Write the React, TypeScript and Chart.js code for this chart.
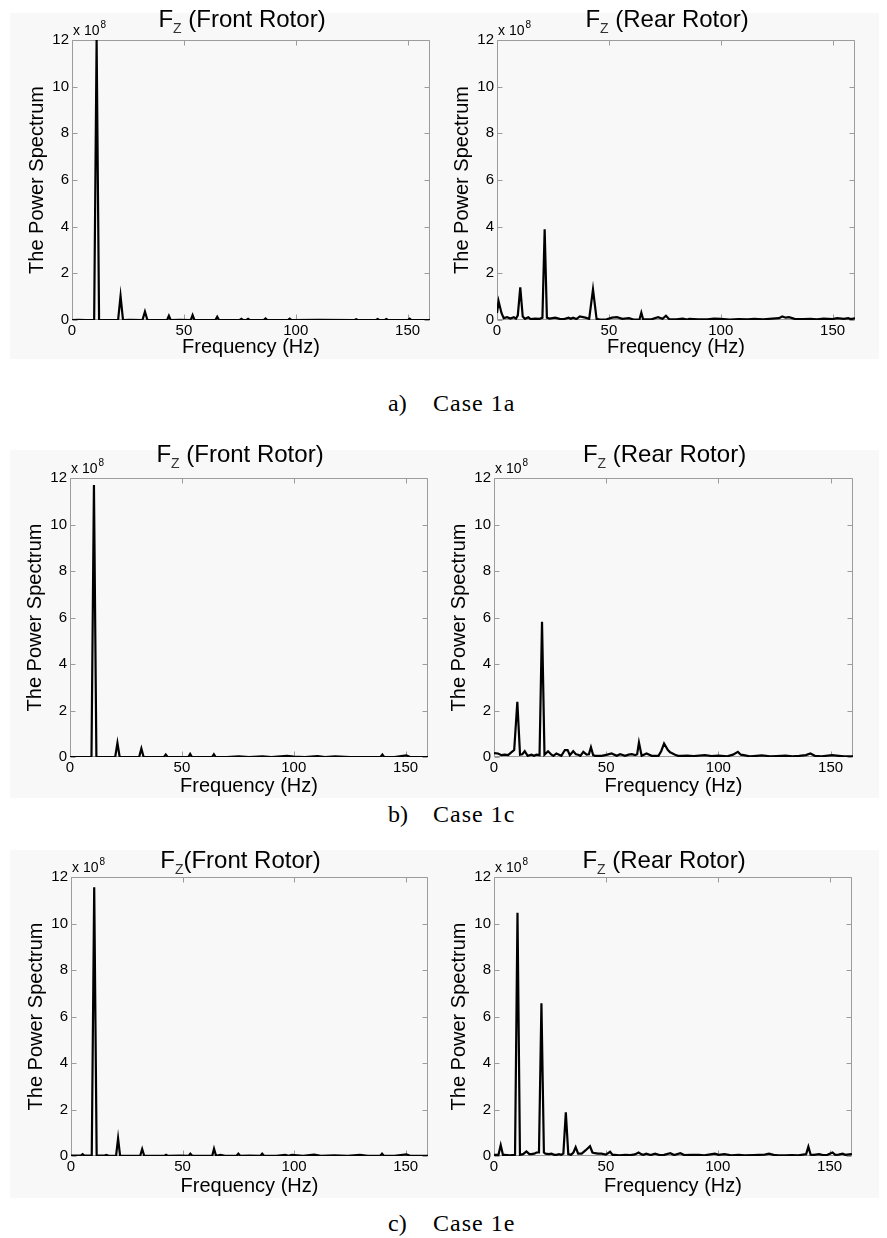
import React, { useEffect, useRef } from "react";
import { Chart, registerables } from "chart.js";

Chart.register(...registerables);

// ---------- data (power spectrum in units of 1e8, frequency in Hz) ----------
const xTicks = [0, 50, 100, 150];
const yTicks = [0, 2, 4, 6, 8, 10, 12];
const xMax = 160;
const yMax = 12;

const freq1aFront = [0, 3, 6, 9.9, 11, 12.1, 15, 20.6, 21.7, 22.8, 26, 31.5, 32.6, 33.7, 38, 42.5, 43.3, 44.1, 48, 53.1, 53.9, 54.7, 58, 64.1, 64.9, 65.7, 70, 75, 75.7, 76.4, 78, 78.7, 79.4, 85.7, 86.5, 87.3, 96.5, 97.3, 98.1, 110, 126.3, 127, 127.7, 135.9, 136.6, 137.3, 139.8, 140.5, 141.2, 150.1, 150.9, 151.7, 160];
const power1aFront = [0, 0.01, 0, 0, 12, 0, 0, 0, 1.03, 0, 0.01, 0, 0.36, 0, 0, 0, 0.18, 0, 0.01, 0, 0.21, 0, 0, 0, 0.14, 0, 0, 0, 0.05, 0, 0, 0.05, 0, 0, 0.07, 0, 0, 0.06, 0, 0.01, 0, 0.03, 0, 0, 0.04, 0, 0, 0.04, 0, 0, 0.06, 0, 0];

const freq1aRear = [0, 0.7, 2, 3, 4.5, 6, 7.5, 8.5, 9.3, 10.4, 11.5, 12.5, 14, 15, 17, 19, 20.3, 21.3, 22.3, 23.5, 26, 28, 30, 32, 33, 34, 35.5, 37, 39.5, 41.2, 42.9, 44.5, 46, 49, 51.4, 53.6, 56, 59, 61, 63.7, 64.5, 65.3, 69, 72, 74, 75.5, 77, 80, 83, 85, 86, 90, 94, 97, 100, 104, 108, 112, 115, 119, 123, 126, 127.5, 129, 130.5, 133, 137, 140, 143, 146, 150, 152, 155, 157, 158, 160];
const power1aRear = [0.3, 0.81, 0.3, 0.08, 0.12, 0.06, 0.12, 0.06, 0.2, 1.4, 0.15, 0.05, 0.12, 0.04, 0.06, 0.05, 0.1, 3.89, 0.1, 0.06, 0.1, 0.05, 0.04, 0.1, 0.05, 0.1, 0.04, 0.15, 0.1, 0.05, 1.31, 0.05, 0.02, 0.03, 0.1, 0.12, 0.05, 0.08, 0.02, 0.03, 0.31, 0.03, 0.03, 0.12, 0.05, 0.18, 0.03, 0.03, 0.06, 0.02, 0.05, 0.03, 0.03, 0.06, 0.05, 0.02, 0.04, 0.03, 0.05, 0.03, 0.06, 0.08, 0.15, 0.1, 0.12, 0.05, 0.04, 0.05, 0.03, 0.06, 0.04, 0.08, 0.05, 0.08, 0.04, 0.07];

const freq1cFront = [0, 4, 8, 9.6, 10.7, 11.8, 15, 20.2, 21.2, 22.2, 27, 30.9, 31.9, 32.9, 38, 42, 42.8, 43.6, 48, 52.9, 53.7, 54.5, 60, 63.5, 64.3, 65.1, 70, 75.4, 80, 86, 90, 97, 100, 105, 110.6, 114, 118.5, 125, 135, 138.8, 139.6, 140.4, 145, 150.3, 152, 160];
const power1cFront = [0, 0, 0, 0, 11.7, 0, 0, 0, 0.6, 0, 0, 0, 0.36, 0, 0, 0, 0.1, 0, 0, 0, 0.13, 0, 0, 0, 0.12, 0, 0, 0.03, 0, 0.03, 0, 0.05, 0.02, 0, 0.04, 0, 0.03, 0, 0, 0, 0.1, 0, 0, 0.07, 0, 0];

const freq1cRear = [0, 1.8, 3.3, 4.8, 6.3, 7.7, 9, 10.4, 11.6, 12.6, 13.7, 15, 16.7, 17.8, 18.9, 20.3, 21.4, 22.5, 24.1, 25.6, 26.5, 27.8, 30, 31.6, 32.8, 33.8, 35.3, 36.5, 37.5, 38.5, 39.8, 41.3, 42.3, 43.2, 44.2, 45, 48, 50.5, 52.4, 54.7, 56.2, 58.4, 60, 61.4, 62.9, 63.8, 64.6, 65.8, 68, 70.3, 73.3, 74.5, 75.8, 77.5, 78.5, 80.7, 82, 83.7, 86, 89, 94, 97, 100, 104, 106.5, 108.7, 110, 111.3, 114, 117, 119.4, 123, 126, 129.9, 133, 136, 139, 141, 143, 146, 150.7, 153.7, 156, 160];
const power1cRear = [0.17, 0.15, 0.08, 0.1, 0.08, 0.2, 0.3, 2.37, 0.1, 0.12, 0.25, 0.05, 0.1, 0.05, 0.1, 0.08, 5.82, 0.1, 0.25, 0.1, 0.05, 0.15, 0.05, 0.3, 0.3, 0.08, 0.25, 0.12, 0.1, 0.05, 0.22, 0.1, 0.12, 0.42, 0.08, 0.05, 0.05, 0.1, 0.15, 0.05, 0.12, 0.05, 0.1, 0.12, 0.08, 0.12, 0.62, 0.05, 0.15, 0.05, 0.05, 0.25, 0.58, 0.3, 0.2, 0.1, 0.05, 0.05, 0.06, 0.04, 0.08, 0.04, 0.06, 0.03, 0.1, 0.22, 0.1, 0.08, 0.03, 0.05, 0.07, 0.03, 0.04, 0.06, 0.03, 0.05, 0.08, 0.15, 0.05, 0.03, 0.08, 0.05, 0.03, 0.03];

const freq1eFront = [0, 3, 4.4, 5.2, 6, 9.3, 10.4, 11.5, 15, 15.9, 16.8, 20.2, 21.1, 22, 27, 31, 31.9, 32.8, 38, 42, 42.6, 43.3, 49, 52.8, 53.5, 54.3, 60, 63.3, 64.1, 65, 67, 69, 74.2, 75, 75.8, 80, 84.9, 85.7, 86.5, 92, 96, 97.5, 99, 104, 109, 112, 118, 124, 129.5, 133, 138.6, 139.4, 140.2, 145, 150.3, 152, 160];
const power1eFront = [0.02, 0.02, 0.02, 0.08, 0.02, 0.02, 11.56, 0.02, 0.02, 0.05, 0.01, 0.01, 0.76, 0.01, 0.01, 0.01, 0.3, 0.01, 0.01, 0.01, 0.05, 0.01, 0.02, 0.01, 0.1, 0.01, 0.01, 0.01, 0.31, 0.01, 0.05, 0.01, 0.01, 0.1, 0.01, 0.02, 0.01, 0.1, 0.01, 0.01, 0.05, 0.01, 0.05, 0.01, 0.06, 0.01, 0.03, 0.01, 0.05, 0.01, 0.01, 0.1, 0.01, 0.01, 0.07, 0.01, 0.01];

const freq1eRear = [0, 2, 3, 4, 4.8, 7, 9.4, 10.5, 11.6, 13, 14.5, 15.8, 16.7, 18, 19, 20.1, 21.2, 22.3, 23, 24.5, 25.7, 27, 28, 29, 30, 31, 32.1, 33.2, 34.4, 35.5, 36.5, 37.6, 39.2, 41, 42.9, 44, 45.1, 46.5, 48, 50, 51.9, 53, 54, 56, 58.6, 61, 63, 64.6, 66, 66.8, 68, 70, 72, 74, 76, 78.8, 80.5, 83.3, 85, 88, 91.5, 94, 96, 98.7, 100.4, 103, 106, 109.4, 112, 116, 118.4, 121, 122.9, 125, 127, 130.3, 133, 136, 139.5, 140.5, 141.5, 143, 145.3, 147, 149, 151.3, 152.5, 154, 155.8, 157, 159.5, 160];
const power1eRear = [0.05, 0.05, 0.47, 0.05, 0.05, 0.03, 0.05, 10.46, 0.05, 0.08, 0.2, 0.08, 0.08, 0.1, 0.15, 0.15, 6.57, 0.15, 0.1, 0.08, 0.1, 0.05, 0.05, 0.08, 0.05, 0.1, 1.88, 0.08, 0.05, 0.15, 0.38, 0.1, 0.1, 0.25, 0.42, 0.15, 0.12, 0.1, 0.1, 0.06, 0.18, 0.05, 0.05, 0.03, 0.05, 0.04, 0.07, 0.15, 0.07, 0.05, 0.1, 0.04, 0.1, 0.04, 0.05, 0.12, 0.04, 0.12, 0.04, 0.05, 0.05, 0.03, 0.06, 0.1, 0.05, 0.08, 0.03, 0.05, 0.03, 0.04, 0.05, 0.06, 0.1, 0.05, 0.03, 0.03, 0.04, 0.03, 0.08, 0.4, 0.06, 0.05, 0.08, 0.04, 0.05, 0.15, 0.05, 0.06, 0.1, 0.05, 0.08, 0.06];

const captions = [
  { tag: "a)", text: "Case 1a" },
  { tag: "b)", text: "Case 1c" },
  { tag: "c)", text: "Case 1e" },
];

// ---------- layout / style ----------
const FONT = '"Liberation Sans", Arial, Helvetica, sans-serif';
const SERIF = '"Liberation Serif", "Times New Roman", serif';
const BG = "#f8f8f8";
const AXIS = "#9c9c9c";
const EXTRA = 8;

type Rect = { x: number; y: number; w: number; h: number };
type Plot = { l: number; t: number; r: number; b: number };
type Spec = {
  key: string;
  freq: number[];
  power: number[];
  rest: string;
  pane: Rect;
  plot: Plot;
  titleGap: number;
};

const LEFT_PANE = { x: 10, w: 433 };
const RIGHT_PANE = { x: 443, w: 436 };

const specs: Spec[] = [
  { key: "1aF", freq: freq1aFront, power: power1aFront, rest: " (Front Rotor)", pane: { ...LEFT_PANE, y: 13, h: 346 }, plot: { l: 72, t: 40, r: 430, b: 320 }, titleGap: 13 },
  { key: "1aR", freq: freq1aRear, power: power1aRear, rest: " (Rear Rotor)", pane: { ...RIGHT_PANE, y: 13, h: 346 }, plot: { l: 497, t: 40, r: 855, b: 320 }, titleGap: 13 },
  { key: "1cF", freq: freq1cFront, power: power1cFront, rest: " (Front Rotor)", pane: { ...LEFT_PANE, y: 450, h: 348 }, plot: { l: 70, t: 478, r: 428, b: 757 }, titleGap: 16 },
  { key: "1cR", freq: freq1cRear, power: power1cRear, rest: " (Rear Rotor)", pane: { ...RIGHT_PANE, y: 450, h: 348 }, plot: { l: 494, t: 478, r: 853, b: 757 }, titleGap: 16 },
  { key: "1eF", freq: freq1eFront, power: power1eFront, rest: "(Front Rotor)", pane: { ...LEFT_PANE, y: 850, h: 348 }, plot: { l: 71, t: 877, r: 428, b: 1156 }, titleGap: 9 },
  { key: "1eR", freq: freq1eRear, power: power1eRear, rest: " (Rear Rotor)", pane: { ...RIGHT_PANE, y: 850, h: 348 }, plot: { l: 494, t: 877, r: 852, b: 1156 }, titleGap: 9 },
];

const captionPos = [
  { tagX: 388, textX: 433, baseline: 411 },
  { tagX: 388, textX: 433, baseline: 822 },
  { tagX: 388, textX: 433, baseline: 1231 },
];

function SpectrumPanel({ spec }: { spec: Spec }) {
  const ref = useRef<HTMLCanvasElement | null>(null);
  const { pane, plot } = spec;
  const cw = pane.w;
  const ch = pane.h + EXTRA;
  const canvasTop = pane.y - EXTRA;

  useEffect(() => {
    const canvas = ref.current;
    if (!canvas) return;
    const titleFont = 20;
    const titleLH = titleFont * 1.2;
    const yTitlePad = plot.l - 35 - pane.x - titleLH / 2;

    const decor = {
      id: "decor",
      beforeDraw(chart: any) {
        const ctx = chart.ctx;
        ctx.save();
        ctx.fillStyle = "#ffffff";
        ctx.fillRect(0, 0, cw, ch);
        ctx.fillStyle = BG;
        ctx.fillRect(0, EXTRA, cw, pane.h);
        ctx.restore();
      },
      beforeDatasetsDraw(chart: any) {
        const { ctx, chartArea: a } = chart;
        const xs = chart.scales.x;
        const ys = chart.scales.y;
        ctx.save();
        ctx.strokeStyle = AXIS;
        ctx.lineWidth = 1;
        ctx.beginPath();
        const L = Math.round(a.left) + 0.5;
        const R = Math.round(a.right) - 0.5;
        const T = Math.round(a.top) + 0.5;
        const B = Math.round(a.bottom) - 0.5;
        ctx.rect(L, T, R - L, B - T);
        const tl = 5;
        xTicks.forEach((v) => {
          const px = Math.round(xs.getPixelForValue(v)) + 0.5;
          ctx.moveTo(px, B);
          ctx.lineTo(px, B - tl);
          ctx.moveTo(px, T);
          ctx.lineTo(px, T + tl);
        });
        yTicks.forEach((v) => {
          const py = Math.round(ys.getPixelForValue(v)) + 0.5;
          ctx.moveTo(L, py);
          ctx.lineTo(L + tl, py);
          ctx.moveTo(R, py);
          ctx.lineTo(R - tl, py);
        });
        ctx.stroke();
        ctx.restore();
      },
      afterDraw(chart: any) {
        const { ctx, chartArea: a } = chart;
        ctx.save();
        ctx.fillStyle = "#000";
        ctx.textAlign = "left";
        ctx.textBaseline = "alphabetic";
        // title F_Z (...)
        const big = `24px ${FONT}`;
        const small = `14px ${FONT}`;
        ctx.font = big;
        const wF = ctx.measureText("F").width;
        const wR = ctx.measureText(spec.rest).width;
        ctx.font = small;
        const wZ = ctx.measureText("Z").width;
        const total = wF + wZ + wR;
        const cx = (a.left + a.right) / 2 - 9;
        const x0 = cx - total / 2;
        const by = a.top - spec.titleGap;
        ctx.font = big;
        ctx.fillText("F", x0, by);
        ctx.font = small;
        ctx.fillStyle = "#333";
        ctx.fillText("Z", x0 + wF, by + 6);
        ctx.fillStyle = "#000";
        ctx.font = big;
        ctx.fillText(spec.rest, x0 + wF + wZ, by);
        // exponent label
        ctx.font = `14px ${FONT}`;
        const mx = a.left + 1;
        ctx.fillText("x 10", mx, a.top - 5);
        const wm = ctx.measureText("x 10").width;
        ctx.font = `10px ${FONT}`;
        ctx.fillText("8", mx + wm + 1, a.top - 12);
        ctx.restore();
      },
    };

    const chart = new Chart(canvas, {
      type: "line",
      data: {
        datasets: [
          {
            data: spec.freq.map((f, i) => ({ x: f, y: spec.power[i] })),
            borderColor: "#000000",
            borderWidth: 2.2,
            pointRadius: 0,
            tension: 0,
            fill: false,
          },
        ],
      },
      options: {
        animation: false,
        responsive: false,
        maintainAspectRatio: false,
        devicePixelRatio: 1,
        events: [],
        layout: {
          padding: {
            left: 0,
            top: plot.t - canvasTop,
            right: pane.x + pane.w - plot.r,
            bottom: 0,
          },
        },
        plugins: {
          legend: { display: false },
          tooltip: { enabled: false },
          title: { display: false },
        },
        scales: {
          x: {
            type: "linear",
            min: 0,
            max: xMax,
            grid: { display: false, drawTicks: false },
            border: { display: false },
            afterBuildTicks: (s: any) => {
              s.ticks = xTicks.map((v) => ({ value: v }));
            },
            afterFit: (s: any) => {
              s.height = pane.y + pane.h - plot.b;
            },
            ticks: {
              font: { family: FONT, size: 15 },
              color: "#000",
              padding: 2,
              maxRotation: 0,
              autoSkip: false,
            },
            title: {
              display: true,
              text: "Frequency (Hz)",
              font: { family: FONT, size: titleFont },
              color: "#000",
              padding: { top: 0, bottom: 0 },
            },
          },
          y: {
            type: "linear",
            min: 0,
            max: yMax,
            grid: { display: false, drawTicks: false },
            border: { display: false },
            afterBuildTicks: (s: any) => {
              s.ticks = yTicks.map((v) => ({ value: v }));
            },
            afterFit: (s: any) => {
              s.width = plot.l - pane.x;
            },
            ticks: {
              font: { family: FONT, size: 15 },
              color: "#000",
              padding: 3,
              autoSkip: false,
            },
            title: {
              display: true,
              text: "The Power Spectrum",
              font: { family: FONT, size: titleFont },
              color: "#000",
              padding: { top: yTitlePad, bottom: 0 },
            },
          },
        },
      },
      plugins: [decor],
    } as any);
    return () => chart.destroy();
  }, [spec]);

  return (
    <canvas
      ref={ref}
      width={cw}
      height={ch}
      style={{ position: "absolute", left: pane.x, top: canvasTop, width: cw, height: ch }}
    />
  );
}

export default function App() {
  return (
    <div
      style={{
        position: "absolute",
        left: 0,
        top: 0,
        width: 887,
        height: 1238,
        background: "#ffffff",
        overflow: "hidden",
      }}
    >
      {specs.map((s) => (
        <SpectrumPanel key={s.key} spec={s} />
      ))}
      {captions.map((c, i) => {
        const p = captionPos[i];
        const size = 24;
        const top = p.baseline - Math.round(size * 0.84);
        const common: React.CSSProperties = {
          position: "absolute",
          top,
          fontFamily: SERIF,
          fontSize: size,
          lineHeight: 1,
          color: "#000",
          whiteSpace: "nowrap",
        };
        return (
          <React.Fragment key={c.tag}>
            <div style={{ ...common, left: p.tagX }}>{c.tag}</div>
            <div style={{ ...common, left: p.textX, letterSpacing: 1 }}>{c.text}</div>
          </React.Fragment>
        );
      })}
    </div>
  );
}
